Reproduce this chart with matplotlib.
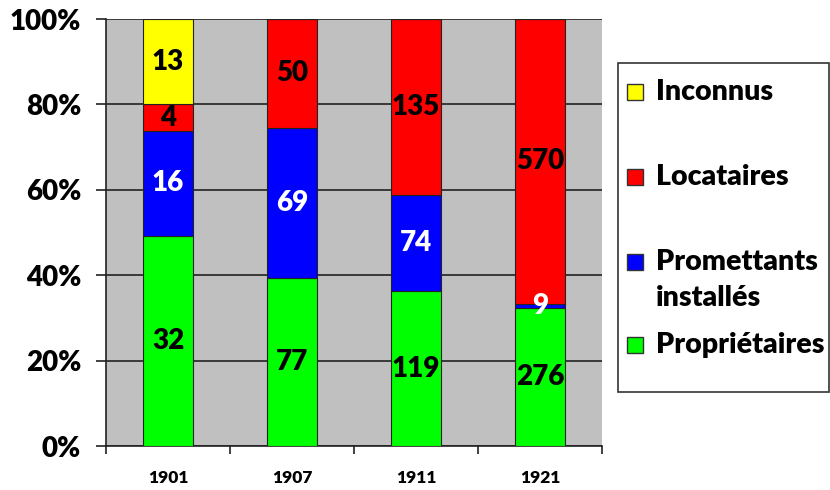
import matplotlib.pyplot as plt
from matplotlib.patches import Rectangle
import numpy as np

annees = ["1901", "1907", "1911", "1921"]
proprietaires = [32, 77, 119, 276]
promettants = [16, 69, 74, 9]
locataires = [4, 50, 135, 570]
inconnus = [13, 0, 0, 0]

series = [
    ("Propriétaires", proprietaires, "#00ff00", "black"),
    ("Promettants\ninstallés", promettants, "#0000ff", "white"),
    ("Locataires", locataires, "#ff0000", "black"),
    ("Inconnus", inconnus, "#ffff00", "black"),
]

plt.rcParams["font.family"] = ["Lato", "DejaVu Sans"]
POIDS = "heavy"

W, H = 830, 490
fig = plt.figure(figsize=(W / 100, H / 100), dpi=100)
ax = fig.add_axes([106 / W, 44 / H, (602 - 106) / W, (446 - 19) / H])
ax.set_facecolor("#c0c0c0")

x = np.arange(len(annees))
totaux = np.sum([s[1] for s in series], axis=0)
bas = np.zeros(len(annees))
for nom, vals, couleur, txt in series:
    pct = np.array(vals) / totaux * 100
    ax.bar(x, pct, 0.4, bottom=bas, color=couleur, edgecolor="#222222",
           linewidth=0.8, zorder=3)
    for xi, v, b, p in zip(x, vals, bas, pct):
        if v > 0:
            ax.text(xi, b + p / 2, str(v), ha="center", va="center",
                    fontsize=20, fontweight=POIDS, color=txt, zorder=4)
    bas += pct

ax.set_xlim(-0.5, len(annees) - 0.5)
ax.set_ylim(0, 100)
ax.set_yticks(range(0, 101, 20))
ax.set_yticklabels([f"{v}%" for v in range(0, 101, 20)], fontsize=20,
                   fontweight=POIDS)
ax.yaxis.grid(True, color="#222222", linewidth=1.2, zorder=1)
ax.set_axisbelow(True)
ax.tick_params(axis="y", length=7, width=1.2, pad=11, color="#222222")

ax.set_xticks(x)
ax.set_xticklabels(annees, fontsize=12.5, fontweight=POIDS)
ax.set_xticks(np.arange(len(annees) + 1) - 0.5, minor=True)
ax.tick_params(axis="x", which="major", length=0, pad=17)
ax.tick_params(axis="x", which="minor", length=6, width=1.2, color="#222222")

for s in ["top", "right"]:
    ax.spines[s].set_visible(False)
for s in ["left", "bottom"]:
    ax.spines[s].set_color("#222222")
    ax.spines[s].set_linewidth(1.2)

# legend box drawn by hand to follow the original spacing
def fx(px):
    return px / W

def fy(py):
    return 1 - py / H

fig.add_artist(Rectangle((fx(618), fy(392)), fx(829) - fx(618), fy(63) - fy(392),
                         transform=fig.transFigure, facecolor="white",
                         edgecolor="#333333", linewidth=1.2))
leg_y = {"Inconnus": 92, "Locataires": 177, "Promettants\ninstallés": 262,
         "Propriétaires": 345}
for nom, vals, couleur, txt in series:
    yc = leg_y[nom]
    fig.add_artist(Rectangle((fx(627), fy(yc + 8)), fx(16), 16 / H,
                             transform=fig.transFigure, facecolor=couleur,
                             edgecolor="#333333", linewidth=1))
    for i, ligne in enumerate(nom.split("\n")):
        fig.text(fx(656), fy(yc + 36 * i), ligne, ha="left", va="center",
                 fontsize=20.5, fontweight=POIDS)

fig.savefig("out.png", dpi=100)
